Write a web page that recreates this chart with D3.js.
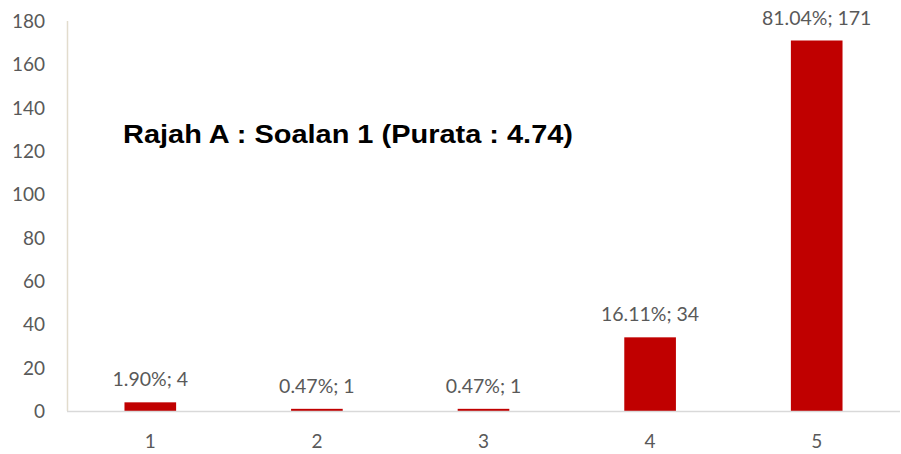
<!DOCTYPE html>
<html>
<head>
<meta charset="utf-8">
<script src="https://cdn.jsdelivr.net/npm/d3@7"></script>
<style>
  body { margin: 0; background: #fff; }
  svg text { font-family: "Lato", "Liberation Sans", sans-serif; }
</style>
</head>
<body>
<div class="chartDIV"></div>
<script>
// values
var categories = ["1", "2", "3", "4", "5"],
    counts = [4, 1, 1, 34, 171],
    percents = ["1.90%", "0.47%", "0.47%", "16.11%", "81.04%"],
    yTicks = [0, 20, 40, 60, 80, 100, 120, 140, 160, 180],
    title = "Rajah A : Soalan 1 (Purata : 4.74)";

var width = 901,
    height = 454,
    plotLeft = 67,
    plotRight = 900,
    plotTop = 21,
    plotBottom = 411;

var svg = d3.select(".chartDIV").
    append("svg").
    attr("width", width).
    attr("height", height);

var x = d3.scaleBand().domain(categories).range([plotLeft, plotRight]).paddingInner(0.69).paddingOuter(0.345),
    y = d3.scaleLinear().domain([0, 180]).range([plotBottom, plotTop]);

// y axis line + labels
svg.append("line").
    attr("x1", plotLeft + 0.5).attr("x2", plotLeft + 0.5).
    attr("y1", plotTop).attr("y2", plotBottom).
    attr("stroke", "#e2dccd").attr("stroke-width", 1.5);

svg.selectAll(".ytick").
    data(yTicks).
    enter().
    append("text").
    attr("class", "ytick").
    attr("x", 45).
    attr("y", function(d) { return y(d); }).
    attr("dy", "0.36em").
    attr("text-anchor", "end").
    attr("fill", "#595959").
    style("font-size", "19px").
    text(function(d) { return d; });

// bars
var data = categories.map(function(c, i) {
    return {cat: c, n: counts[i], pct: percents[i]};
});

svg.selectAll(".bar").
    data(data).
    enter().
    append("rect").
    attr("class", "bar").
    attr("x", function(d) { return x(d.cat); }).
    attr("width", x.bandwidth()).
    attr("y", function(d) { return y(d.n); }).
    attr("height", function(d) { return plotBottom - y(d.n); }).
    attr("fill", "#c00000");

// x axis line
svg.append("line").
    attr("x1", plotLeft).attr("x2", plotRight).
    attr("y1", plotBottom + 0.5).attr("y2", plotBottom + 0.5).
    attr("stroke", "#d9d9d9").attr("stroke-width", 1.5);

svg.selectAll(".xlab").
    data(categories).
    enter().
    append("text").
    attr("class", "xlab").
    attr("x", function(d) { return x(d) + x.bandwidth() / 2; }).
    attr("y", 448).
    attr("text-anchor", "middle").
    attr("fill", "#595959").
    style("font-size", "19px").
    text(function(d) { return d; });

// data labels
svg.selectAll(".dlab").
    data(data).
    enter().
    append("text").
    attr("class", "dlab").
    attr("x", function(d) { return x(d.cat) + x.bandwidth() / 2; }).
    attr("y", function(d) { return y(d.n) - 16; }).
    attr("text-anchor", "middle").
    attr("fill", "#595959").
    style("font-size", "19.5px").
    text(function(d) { return d.pct + "; " + d.n; });

svg.append("text").
    attr("x", 123).
    attr("y", 143).
    attr("fill", "#000").
    attr("textLength", 450).
    attr("lengthAdjust", "spacingAndGlyphs").
    style("font-family", "'Liberation Sans', Arial, sans-serif").
    style("font-weight", "bold").
    style("font-size", "26px").
    text(title);
</script>
</body>
</html>
